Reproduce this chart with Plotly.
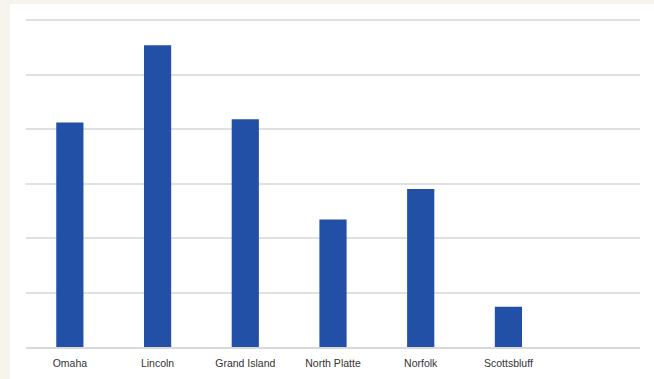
import plotly.graph_objects as go

cities = ["Omaha", "Lincoln", "Grand Island", "North Platte", "Norfolk", "Scottsbluff"]
values = [41.2, 55.4, 41.8, 23.4, 29.0, 7.4]

W, H = 654, 379
L, R, T, B = 26, 14, 19, 32

fig = go.Figure()
fig.add_trace(go.Bar(x=cities, y=values, marker=dict(color="#2150a6", line=dict(width=0)), width=0.31))

fig.add_shape(type="rect", xref="paper", yref="paper",
              x0=(10 - L) / (W - L - R), x1=(W - L) / (W - L - R),
              y0=-B / (H - T - B), y1=(H - 4 - B) / (H - T - B),
              fillcolor="white", line=dict(width=0), layer="below")

fig.update_layout(
    width=W, height=H,
    margin=dict(l=L, r=R, t=T, b=B, autoexpand=False),
    paper_bgcolor="#f7f4ee",
    plot_bgcolor="rgba(0,0,0,0)",
    showlegend=False,
    font=dict(family="Liberation Sans, Arial, sans-serif", size=10.5, color="#333333"),
    xaxis=dict(
        range=[-0.5, 6.5], showgrid=False, showline=True, linecolor="#d9d9d9", linewidth=1.5,
        ticks="outside", ticklen=6, tickcolor="rgba(0,0,0,0)", automargin=False,
        tickfont=dict(size=10.5, color="#333333"),
    ),
    yaxis=dict(
        range=[0, 60.2], tickvals=[10, 20, 30, 40, 50, 60], showticklabels=False, showgrid=True,
        gridcolor="#e0e0e0", gridwidth=1.5, zeroline=False, showline=False, automargin=False,
    ),
)

fig.write_html("out.html")
